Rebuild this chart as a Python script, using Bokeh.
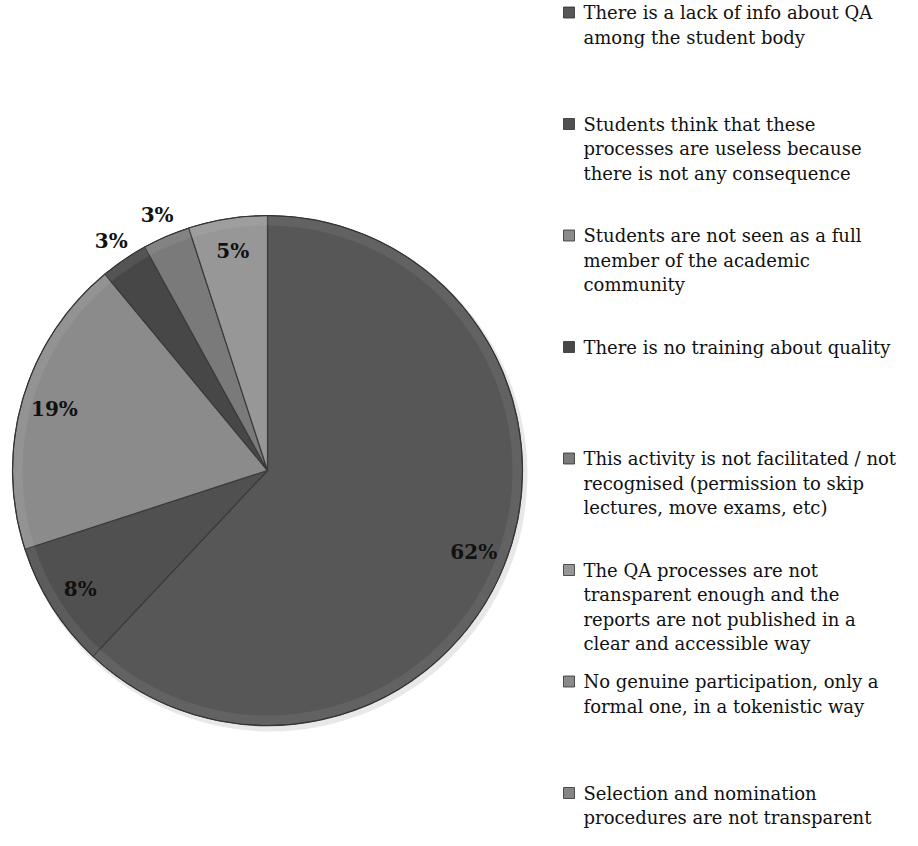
import math
from bokeh.plotting import figure
from bokeh.models import Range1d, ColumnDataSource
from bokeh.core.properties import value
from bokeh.embed import file_html
from bokeh.resources import INLINE

# ---- data ----
categories = [
    "There is a lack of info about QA\namong the student body",
    "Students think that these\nprocesses are useless because\nthere is not any consequence",
    "Students are not seen as a full\nmember of the academic\ncommunity",
    "There is no training about quality",
    "This activity is not facilitated / not\nrecognised (permission to skip\nlectures, move exams, etc)",
    "The QA processes are not\ntransparent enough and the\nreports are not published in a\nclear and accessible way",
    "No genuine participation, only a\nformal one, in a tokenistic way",
    "Selection and nomination\nprocedures are not transparent",
]
shares = [62, 8, 19, 3, 3, 5, 0, 0]
colors = ["#575757", "#505050", "#8b8b8b", "#474747", "#7a7a7a", "#979797", "#8a8a8a", "#858585"]

# ---- layout (canvas pixels; data y = H - pixel y) ----
W, H = 902, 830
CX, CY, R = 267, H - 470, 255

p = figure(width=W, height=H, x_range=Range1d(0, W), y_range=Range1d(0, H),
           output_backend="svg", toolbar_location=None, min_border=0)
p.axis.visible = False
p.grid.visible = False
p.outline_line_color = None
p.background_fill_color = "white"
p.border_fill_color = "white"

total = float(sum(shares))
starts, ends, mids = [], [], []
acc = 0.0
for s in shares:
    a0 = math.pi / 2 - 2 * math.pi * acc / total
    acc += s
    a1 = math.pi / 2 - 2 * math.pi * acc / total
    starts.append(a0); ends.append(a1); mids.append((a0 + a1) / 2)

vis = [i for i, s in enumerate(shares) if s > 0]
src = ColumnDataSource(dict(
    start=[starts[i] for i in vis], end=[ends[i] for i in vis],
    color=[colors[i] for i in vis]))

# soft shadow
p.circle(x=CX + 3, y=CY - 4, radius=R + 2, fill_color="#bdbdbd", fill_alpha=0.35, line_color=None)
p.wedge(x=CX, y=CY, radius=R, start_angle="start", end_angle="end", direction="clock",
        fill_color="color", line_color="#3a3a3a", line_width=1.2, source=src)
# bevel highlight along rim
p.annular_wedge(x=CX, y=CY, inner_radius=R - 10, outer_radius=R, start_angle="start", end_angle="end",
                direction="clock", fill_color="white", fill_alpha=0.07, line_color=None, source=src)
p.circle(x=CX, y=CY, radius=R, fill_color=None, line_color="#333333", line_width=1)

# percentage labels
lx, ly, lt = [], [], []
for i in vis:
    frac = shares[i] / total
    r = R * 1.09 if frac < 0.04 else R * 0.87
    lx.append(CX + r * math.cos(mids[i]))
    ly.append(CY + r * math.sin(mids[i]))
    lt.append(f"{round(100 * frac)}%")
p.text(x=lx, y=ly, text=lt, text_font=value("DejaVu Serif"), text_font_style="bold",
       text_font_size="20px", text_align="center", text_baseline="middle", text_color="#111111")

# legend
LEG_X, TXT_X, LEG_Y0, LEG_DY, LINE_DY = 568.5, 583, 12, 111.5, 24.5
mx, my, mc = [], [], []
tx, ty, tt = [], [], []
for k, cat in enumerate(categories):
    y0 = LEG_Y0 + k * LEG_DY
    mx.append(LEG_X); my.append(H - y0); mc.append(colors[k])
    for j, line in enumerate(cat.split("\n")):
        tx.append(TXT_X); ty.append(H - (y0 + j * LINE_DY)); tt.append(line)
p.scatter(x=mx, y=my, marker="square", size=11, fill_color=mc, line_color="#2e2e2e", line_width=0.8)
p.text(x=tx, y=ty, text=tt, text_font=value("DejaVu Serif"), text_font_size="18px",
       text_align="left", text_baseline="middle", text_color="#111111")

open("out.html", "w").write(file_html(p, INLINE))
